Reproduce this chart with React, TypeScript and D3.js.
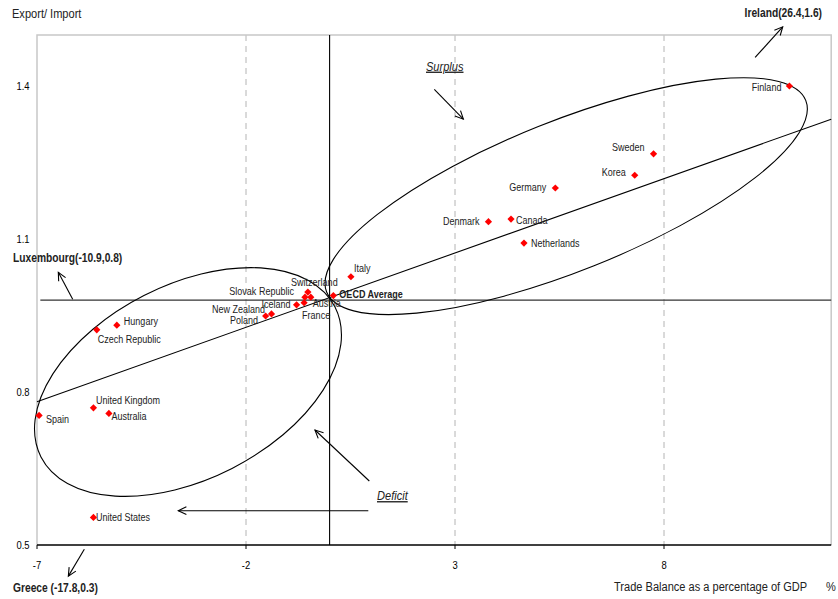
import React from 'react';
import * as d3 from 'd3';

// ---- Data ----
const countries = [
  'Finland', 'Sweden', 'Korea', 'Germany', 'Denmark', 'Canada', 'Netherlands', 'Italy',
  'OECD Average', 'Switzerland', 'Slovak Republic', 'Austria', 'France', 'Iceland',
  'New Zealand', 'Poland', 'Hungary', 'Czech Republic', 'United Kingdom', 'Australia',
  'Spain', 'United States',
];
const tradeBalance = [
  11.0, 7.75, 7.3, 5.4, 3.8, 4.34, 4.65, 0.51,
  0.09, -0.52, -0.59, -0.45, -0.61, -0.79,
  -1.39, -1.53, -5.09, -5.57, -5.65, -5.28,
  -6.95, -5.65,
];
const exportImport = [
  1.40, 1.267, 1.225, 1.20, 1.134, 1.139, 1.092, 1.026,
  0.989, 0.996, 0.986, 0.986, 0.975, 0.971,
  0.953, 0.949, 0.931, 0.922, 0.769, 0.758,
  0.754, 0.554,
];
const xTicks = [-7, -2, 3, 8];
const yTicks = [0.5, 0.8, 1.1, 1.4];
const xDomain = [-7, 12];
const yDomain = [0.5, 1.5];
const trendX = [-7, 12];
const trendY = [0.781, 1.335];
const averageLineY = 0.98;

// ---- Layout ----
const W = 838, H = 599;
const M = { left: 37, right: 838 - 831.2, top: 35, bottom: 599 - 545 };
const FONT = "'Liberation Sans', Arial, sans-serif";
const NARROW = 0.82;

const labelLayout: Record<string, { dx: number; dy: number; anchor: string; bold?: boolean }> = {
  'Finland': { dx: -8, dy: 5, anchor: 'end' },
  'Sweden': { dx: -9, dy: -2.5, anchor: 'end' },
  'Korea': { dx: -9, dy: 1, anchor: 'end' },
  'Germany': { dx: -9, dy: 3, anchor: 'end' },
  'Denmark': { dx: -9, dy: 3, anchor: 'end' },
  'Canada': { dx: 5, dy: 5, anchor: 'start' },
  'Netherlands': { dx: 7, dy: 4, anchor: 'start' },
  'Italy': { dx: 3, dy: -4.5, anchor: 'start' },
  'OECD Average': { dx: 6, dy: 2, anchor: 'start', bold: true },
  'Switzerland': { dx: 6.5, dy: -6.5, anchor: 'middle' },
  'Slovak Republic': { dx: -11, dy: -2.5, anchor: 'end' },
  'Austria': { dx: 2, dy: 10, anchor: 'start' },
  'France': { dx: -2, dy: 16, anchor: 'start' },
  'Iceland': { dx: -6, dy: 3, anchor: 'end' },
  'New Zealand': { dx: -6.5, dy: -0.5, anchor: 'end' },
  'Poland': { dx: -7.5, dy: 8, anchor: 'end' },
  'Hungary': { dx: 7, dy: 0, anchor: 'start' },
  'Czech Republic': { dx: 1, dy: 13, anchor: 'start' },
  'United Kingdom': { dx: 2.5, dy: -3.5, anchor: 'start' },
  'Australia': { dx: 2.5, dy: 6.5, anchor: 'start' },
  'Spain': { dx: 7, dy: 7.5, anchor: 'start' },
  'United States': { dx: 2.5, dy: 4, anchor: 'start' },
};

// annotation arrows in data units: [x1, y1, x2(head), y2(head)]
const arrows: [number, number, number, number][] = [
  [10.18, 1.456, 10.84, 1.516],
  [2.505, 1.3935, 3.2, 1.335],
  [-6.146, 0.9818, -6.49, 1.0347],
  [0.95, 0.6255, -0.35, 0.7255],
  [0.926, 0.5673, -3.62, 0.5673],
  [-5.868, 0.4916, -6.25, 0.439],
];

// ellipses: center in data units, radii in px, rotation deg
const ellipses = [
  { cx: 5.66, cy: 1.184, rx: 258, ry: 75, rot: -21.8 },
  { cx: -3.388, cy: 0.8196, rx: 165, ry: 97, rot: -27 },
];

type TProps = {
  x: number; y: number; size: number; anchor?: string; bold?: boolean;
  italic?: boolean; underline?: boolean; fill?: string; children: React.ReactNode;
};
function T({ x, y, size, anchor = 'start', bold, italic, underline, fill = '#222', children }: TProps) {
  return (
    <text transform={`translate(${x},${y}) scale(${NARROW},1)`} fontSize={size} textAnchor={anchor}
      fontWeight={bold ? 'bold' : 'normal'} fontStyle={italic ? 'italic' : 'normal'}
      textDecoration={underline ? 'underline' : 'none'} fill={fill}>{children}</text>
  );
}

export default function App() {
  const x = d3.scaleLinear().domain(xDomain).range([M.left, W - M.right]);
  const y = d3.scaleLinear().domain(yDomain).range([H - M.bottom, M.top]);
  const x0 = x(xDomain[0]), x1 = x(xDomain[1]);
  const y0 = y(yDomain[0]), y1 = y(yDomain[1]);
  const line = d3.line<[number, number]>().x(d => x(d[0])).y(d => y(d[1]));
  const diamond = d3.symbol().type(d3.symbolSquare).size(26)();

  const arrowHead = (ax: number, ay: number, bx: number, by: number, len = 9, ang = 0.45) => {
    const t = Math.atan2(by - ay, bx - ax);
    const p1 = [bx - len * Math.cos(t - ang), by - len * Math.sin(t - ang)];
    const p2 = [bx - len * Math.cos(t + ang), by - len * Math.sin(t + ang)];
    return `M${p1[0]},${p1[1]}L${bx},${by}L${p2[0]},${p2[1]}`;
  };

  return (
    <svg width={W} height={H} style={{ position: 'absolute', left: 0, top: 0, background: '#fff' }}
      fontFamily={FONT}>
      <rect x={0} y={0} width={W} height={H} fill="#fff" />
      {/* gridlines */}
      {xTicks.filter(t => t !== xDomain[0]).map(t => (
        <line key={'g' + t} x1={x(t)} x2={x(t)} y1={y1} y2={y0} stroke="#b4b4b4" strokeWidth={1} strokeDasharray="6,5" />
      ))}
      {/* plot border */}
      <path d={`M${x0},${y0}L${x0},${y1}L${x1},${y1}L${x1},${y0}`} fill="none" stroke="#c8c8c8" strokeWidth={1.5} />
      {/* x=0 vertical line */}
      <line x1={x(0)} x2={x(0)} y1={y1} y2={y0} stroke="#000" strokeWidth={1.1} />
      {/* average horizontal line */}
      <line x1={x(-6.92)} x2={x1} y1={y(averageLineY)} y2={y(averageLineY)} stroke="#333" strokeWidth={1.3} />
      {/* trend */}
      <path d={line([[trendX[0], trendY[0]], [trendX[1], trendY[1]]]) || ''} stroke="#000" strokeWidth={1.1} fill="none" />
      {/* ellipses */}
      {ellipses.map((e, i) => (
        <ellipse key={'e' + i} cx={0} cy={0} rx={e.rx} ry={e.ry} fill="none" stroke="#000" strokeWidth={1.1}
          transform={`translate(${x(e.cx)},${y(e.cy)}) rotate(${e.rot})`} />
      ))}
      {/* x axis */}
      <line x1={x0} x2={x1} y1={y0} y2={y0} stroke="#000" strokeWidth={1.5} />
      {xTicks.map(t => (
        <g key={'xt' + t}>
          <line x1={x(t)} x2={x(t)} y1={y0} y2={y0 + 4} stroke="#000" strokeWidth={1} />
          <T x={x(t)} y={y0 + 24} size={11.5} anchor="middle" fill="#000">{t}</T>
        </g>
      ))}
      {yTicks.map(t => (
        <T key={'yt' + t} x={x0 - 7.5} y={y(t) + 4} size={11.5} anchor="end" fill="#000">{t.toFixed(1)}</T>
      ))}
      {/* points */}
      {countries.map((c, i) => (
        <path key={'p' + c} d={diamond} fill="#ff0000"
          transform={`translate(${x(tradeBalance[i])},${y(exportImport[i])}) rotate(45)`} />
      ))}
      {countries.map((c, i) => {
        const L = labelLayout[c];
        return (
          <T key={'l' + c} x={x(tradeBalance[i]) + L.dx} y={y(exportImport[i]) + L.dy}
            size={11} anchor={L.anchor} bold={L.bold}>{c}</T>
        );
      })}
      {/* arrows */}
      {arrows.map((a, i) => {
        const ax = x(a[0]), ay = y(a[1]), bx = x(a[2]), by = y(a[3]);
        return (
          <g key={'a' + i} stroke="#000" strokeWidth={1.1} fill="none">
            <line x1={ax} y1={ay} x2={bx} y2={by} />
            <path d={arrowHead(ax, ay, bx, by)} />
          </g>
        );
      })}
      {/* annotation texts */}
      <T x={12} y={18} size={13.5}>Export/ Import</T>
      <T x={822} y={17} size={12.5} bold anchor="end">Ireland(26.4,1.6)</T>
      <T x={13} y={262} size={12.5} bold>Luxembourg(-10.9,0.8)</T>
      <T x={13} y={592} size={12.5} bold>Greece (-17.8,0.3)</T>
      <T x={426} y={70.5} size={13.5} italic underline>Surplus</T>
      <T x={377} y={500} size={13.5} italic underline>Deficit</T>
      <T x={614} y={591} size={13.5}>Trade Balance as a percentage of GDP</T>
      <T x={826} y={591} size={13.5}>%</T>
    </svg>
  );
}
